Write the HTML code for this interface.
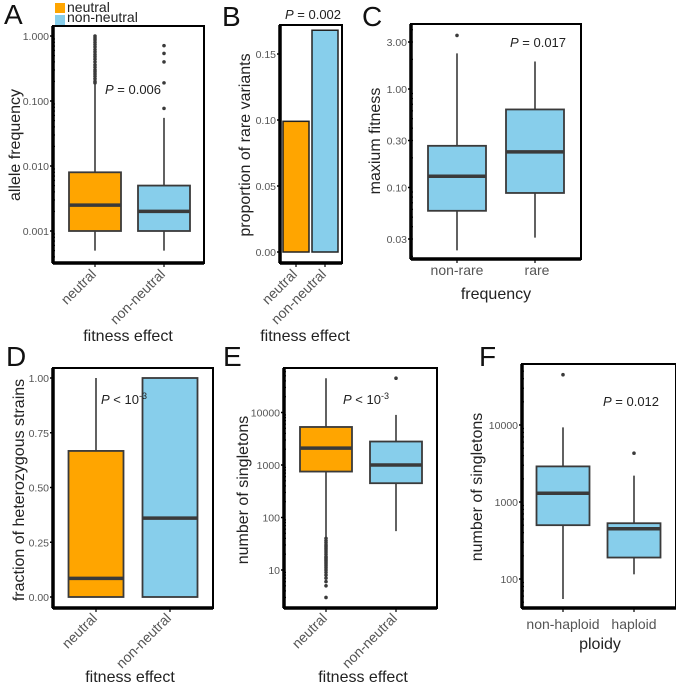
<!DOCTYPE html>
<html><head><meta charset="utf-8">
<style>
html,body{margin:0;padding:0;background:#fff;}
svg{display:block;font-family:"Liberation Sans",sans-serif;}
.tk{font-size:10.5px;fill:#555;}
.ax{font-size:16px;fill:#222;}
.xl{font-size:14px;fill:#555;}
.let{font-size:28px;fill:#111;}
.pv{font-size:13px;fill:#222;}
</style></head>
<body>
<svg id="fig" width="676" height="685" viewBox="0 0 676 685" xmlns="http://www.w3.org/2000/svg"></svg>
<script>
// ---- Panel A data ----
const aCats = ["neutral","non-neutral"];
const aQ1 = [0.001, 0.001];
const aMed = [0.0025, 0.002];
const aQ3 = [0.008, 0.005];
const aLo = [0.0005, 0.0005];
const aHi = [0.18, 0.055];
const aOut0 = [0.19,0.2,0.22,0.24,0.26,0.28,0.3,0.33,0.36,0.4,0.44,0.48,0.52,0.57,0.62,0.68,0.74,0.8,0.87,0.93,1.0];
const aOut1 = [0.077,0.19,0.40,0.54,0.71];
const aTicks = [0.001,0.01,0.1,1];
const aTickLabels = ["0.001","0.010","0.100","1.000"];
// ---- Panel B data ----
const bCats = ["neutral","non-neutral"];
const bVals = [0.099, 0.168];
const bTicks = [0,0.05,0.10,0.15];
const bTickLabels = ["0.00","0.05","0.10","0.15"];
// ---- Panel C data ----
const cCats = ["non-rare","rare"];
const cQ1 = [0.058, 0.088];
const cMed = [0.13, 0.23];
const cQ3 = [0.265, 0.62];
const cLo = [0.023, 0.031];
const cHi = [2.3, 1.9];
const cOut0 = [3.5];
const cOut1 = [];
const cTicks = [0.03,0.1,0.3,1,3];
const cTickLabels = ["0.03","0.10","0.30","1.00","3.00"];
// ---- Panel D data ----
const dCats = ["neutral","non-neutral"];
const dQ1 = [0, 0];
const dMed = [0.085, 0.36];
const dQ3 = [0.667, 1.0];
const dLo = [0, 0];
const dHi = [1.0, 1.0];
const dTicks = [0,0.25,0.5,0.75,1];
const dTickLabels = ["0.00","0.25","0.50","0.75","1.00"];
// ---- Panel E data ----
const eCats = ["neutral","non-neutral"];
const eQ1 = [750, 450];
const eMed = [2100, 1000];
const eQ3 = [5300, 2800];
const eLo = [42, 55];
const eHi = [45000, 9000];
const eOut0 = [3,5,6,7,8,9,10,11,12,13,14,15,16,17,18,20,22,24,26,28,30,33,36,40];
const eOut1 = [45000];
const eTicks = [10,100,1000,10000];
const eTickLabels = ["10","100","1000","10000"];
// ---- Panel F data ----
const fCats = ["non-haploid","haploid"];
const fQ1 = [500, 190];
const fMed = [1300, 450];
const fQ3 = [2900, 530];
const fLo = [55, 115];
const fHi = [9300, 2200];
const fOut0 = [45000];
const fOut1 = [4300];
const fTicks = [100,1000,10000];
const fTickLabels = ["100","1000","10000"];

const NS="http://www.w3.org/2000/svg";
const svg=document.getElementById('fig');
function mk(tag,attrs,parent,txt){const e=document.createElementNS(NS,tag);for(const k in attrs)e.setAttribute(k,attrs[k]);if(txt!==undefined)e.textContent=txt;(parent||svg).appendChild(e);return e;}
const ORANGE="#FFA500", BLUE="#87CEEB", STROKE="#3a3a3a";

function logScale(refV, refY, dec){return v=>refY-dec*(Math.log10(v)-Math.log10(refV));}
function linScale(v0,y0,v1,y1){return v=>y0+(v-v0)*(y1-y0)/(v1-v0);}

function frame(g,x0,y0,x1,y1){
  const r=mk('rect',{x:x0,y:y0,width:x1-x0,height:y1-y0,fill:'#fff',stroke:'#000','stroke-width':2},g);
  
  mk('line',{x1:x0,y1:y0,x2:x0,y2:y1,stroke:'#000','stroke-width':3.5},g);
  mk('line',{x1:x0,y1:y1,x2:x1,y2:y1,stroke:'#000','stroke-width':3.5},g);
}
function yTicks(g,x0,ys,ticks,labels,minor){
  ticks.forEach((t,i)=>{
    const y=ys(t);
    mk('line',{x1:x0-3,y1:y,x2:x0,y2:y,stroke:'#000','stroke-width':1.5},g);
    const tl=mk('text',{x:x0-4,y:y+4,'text-anchor':'end',class:'tk'},g,labels[i]);
    
  });
  if(minor){minor.forEach(v=>{const y=ys(v);mk('line',{x1:x0-1,y1:y,x2:x0+2,y2:y,stroke:'#000','stroke-width':1.2},g);});}
}
function boxes(g,ys,centers,hw,fills,q1,med,q3,lo,hi,outs,y1){
  centers.forEach((cx,i)=>{
    mk('line',{x1:cx,y1:y1,x2:cx,y2:y1+4,stroke:'#000','stroke-width':1.2},g);
    const wh=mk('line',{x1:cx,y1:ys(lo[i]),x2:cx,y2:ys(hi[i]),stroke:STROKE,'stroke-width':1.6},g);
    
    const b=mk('rect',{x:cx-hw,y:ys(q3[i]),width:2*hw,height:ys(q1[i])-ys(q3[i]),fill:fills[i],stroke:STROKE,'stroke-width':1.8},g);
    
    const m=mk('line',{x1:cx-hw,y1:ys(med[i]),x2:cx+hw,y2:ys(med[i]),stroke:STROKE,'stroke-width':3.5},g);
    
    if(outs&&outs[i])outs[i].forEach(v=>{
      const c=mk('circle',{cx:cx,cy:ys(v),r:1.8,fill:STROKE},g);
      
    });
  });
}
function rotLabels(g,centers,cats,yb){
  cats.forEach((c,i)=>{
    const t=mk('text',{x:centers[i]+2,y:yb,'text-anchor':'end',class:'xl',transform:`rotate(-45 ${centers[i]+2} ${yb})`},g,c);
    
  });
}
function hLabels(g,centers,cats,yb){
  cats.forEach((c,i)=>{
    const t=mk('text',{x:centers[i],y:yb,'text-anchor':'middle',class:'xl'},g,c);
    
  });
}
function txt(g,x,y,cls,s,name,extra){const t=mk('text',Object.assign({x:x,y:y,class:cls},extra||{}),g,s);return t;}
function yTitle(g,x,y,s){const t=mk('text',{x:x,y:y,class:'ax','text-anchor':'middle',transform:`rotate(-90 ${x} ${y})`},g,s);}
function minorLog(lo,hi){const a=[];for(let d=lo;d<hi;d*=10)for(let k=2;k<=9;k++)a.push(d*k);return a;}
function pText(g,x,y,rest,sup){
  const t=mk('text',{x:x,y:y,class:'pv'},g);
  
  mk('tspan',{'font-style':'italic'},t,'P');
  mk('tspan',{},t,rest);
  if(sup)mk('tspan',{dy:-5,'font-size':'9px'},t,sup);
}

// ===== Panel A =====
let g=mk('g',{});
txt(g,4,24,'let','A','panel-letter');
let lg=mk('rect',{x:55,y:3,width:10,height:10,fill:ORANGE},g);
txt(g,67,12,'ax','neutral','legend-entry',{style:'font-size:14px'});
lg=mk('rect',{x:55,y:15,width:10,height:10,fill:BLUE},g);
txt(g,67,22,'ax','non-neutral','legend-entry',{style:'font-size:14px'});
frame(g,53,26,204,263);
let ys=logScale(0.001,231,65);
yTicks(g,53,ys,aTicks,aTickLabels,minorLog(0.0001,1).filter(v=>ys(v)>28&&ys(v)<261));
boxes(g,ys,[95,164],26,[ORANGE,BLUE],aQ1,aMed,aQ3,aLo,aHi,[aOut0,aOut1],263);
pText(g,105,94,' = 0.006');
yTitle(g,20,145,'allele frequency');
rotLabels(g,[95,164],aCats,275);
txt(g,128,341,'ax','fitness effect','x-axis-title',{'text-anchor':'middle'});

// ===== Panel B =====
g=mk('g',{});
txt(g,222,26,'let','B','panel-letter');
frame(g,280,25,342,263);
ys=linScale(0,252,0.05,186);
yTicks(g,280,ys,bTicks,bTickLabels);
[296,325].forEach((cx,i)=>{
  const r=mk('rect',{x:cx-13,y:ys(bVals[i]),width:26,height:ys(0)-ys(bVals[i]),fill:i?BLUE:ORANGE,stroke:'#222','stroke-width':1.5},g);
  
  mk('line',{x1:cx,y1:263,x2:cx,y2:267,stroke:'#000','stroke-width':1.2},g);
});
pText(g,285,19,' = 0.002');
yTitle(g,250,145,'proportion of rare variants');
rotLabels(g,[296,325],bCats,275);
txt(g,305,341,'ax','fitness effect','x-axis-title',{'text-anchor':'middle'});

// ===== Panel C =====
g=mk('g',{});
txt(g,362,26,'let','C','panel-letter');
frame(g,411,24,581,259);
ys=logScale(1,89,98.5);
yTicks(g,411,ys,cTicks,cTickLabels,minorLog(0.01,10).filter(v=>ys(v)>26&&ys(v)<257));
boxes(g,ys,[457,535],29,[BLUE,BLUE],cQ1,cMed,cQ3,cLo,cHi,[cOut0,cOut1],259);
pText(g,510,47,' = 0.017');
yTitle(g,380,141,'maxium fitness');
hLabels(g,[457,537],cCats,275);
txt(g,496,299,'ax','frequency','x-axis-title',{'text-anchor':'middle'});

// ===== Panel D =====
g=mk('g',{});
txt(g,6,366,'let','D','panel-letter');
frame(g,53,368,213,608);
ys=linScale(0,597,1,378);
yTicks(g,53,ys,dTicks,dTickLabels);
boxes(g,ys,[96,170],27.5,[ORANGE,BLUE],dQ1,dMed,dQ3,dLo,dHi,null,608);
pText(g,101,404,' < 10','-3');
yTitle(g,24,490,'fraction of heterozygous strains');
rotLabels(g,[96,170],dCats,619);
txt(g,130,682,'ax','fitness effect','x-axis-title',{'text-anchor':'middle'});

// ===== Panel E =====
g=mk('g',{});
txt(g,223,366,'let','E','panel-letter');
frame(g,284,368,437,608);
ys=logScale(1000,465,52.5);
yTicks(g,284,ys,eTicks,eTickLabels,minorLog(1,100000).filter(v=>ys(v)>370&&ys(v)<606));
boxes(g,ys,[326,396],26,[ORANGE,BLUE],eQ1,eMed,eQ3,eLo,eHi,[eOut0,eOut1],608);
pText(g,343,404,' < 10','-3');
yTitle(g,248,490,'number of singletons');
rotLabels(g,[326,396],eCats,619);
txt(g,363,682,'ax','fitness effect','x-axis-title',{'text-anchor':'middle'});

// ===== Panel F =====
g=mk('g',{});
txt(g,479,366,'let','F','panel-letter');
frame(g,522,364,676,608);
ys=logScale(1000,502,77);
yTicks(g,522,ys,fTicks,fTickLabels,minorLog(10,100000).filter(v=>ys(v)>366&&ys(v)<606));
boxes(g,ys,[563,634],26.5,[BLUE,BLUE],fQ1,fMed,fQ3,fLo,fHi,[fOut0,fOut1],608);
pText(g,603,406,' = 0.012');
yTitle(g,482,487,'number of singletons');
hLabels(g,[563,634],fCats,629);
txt(g,600,649,'ax','ploidy','x-axis-title',{'text-anchor':'middle'});
</script>
</body></html>
